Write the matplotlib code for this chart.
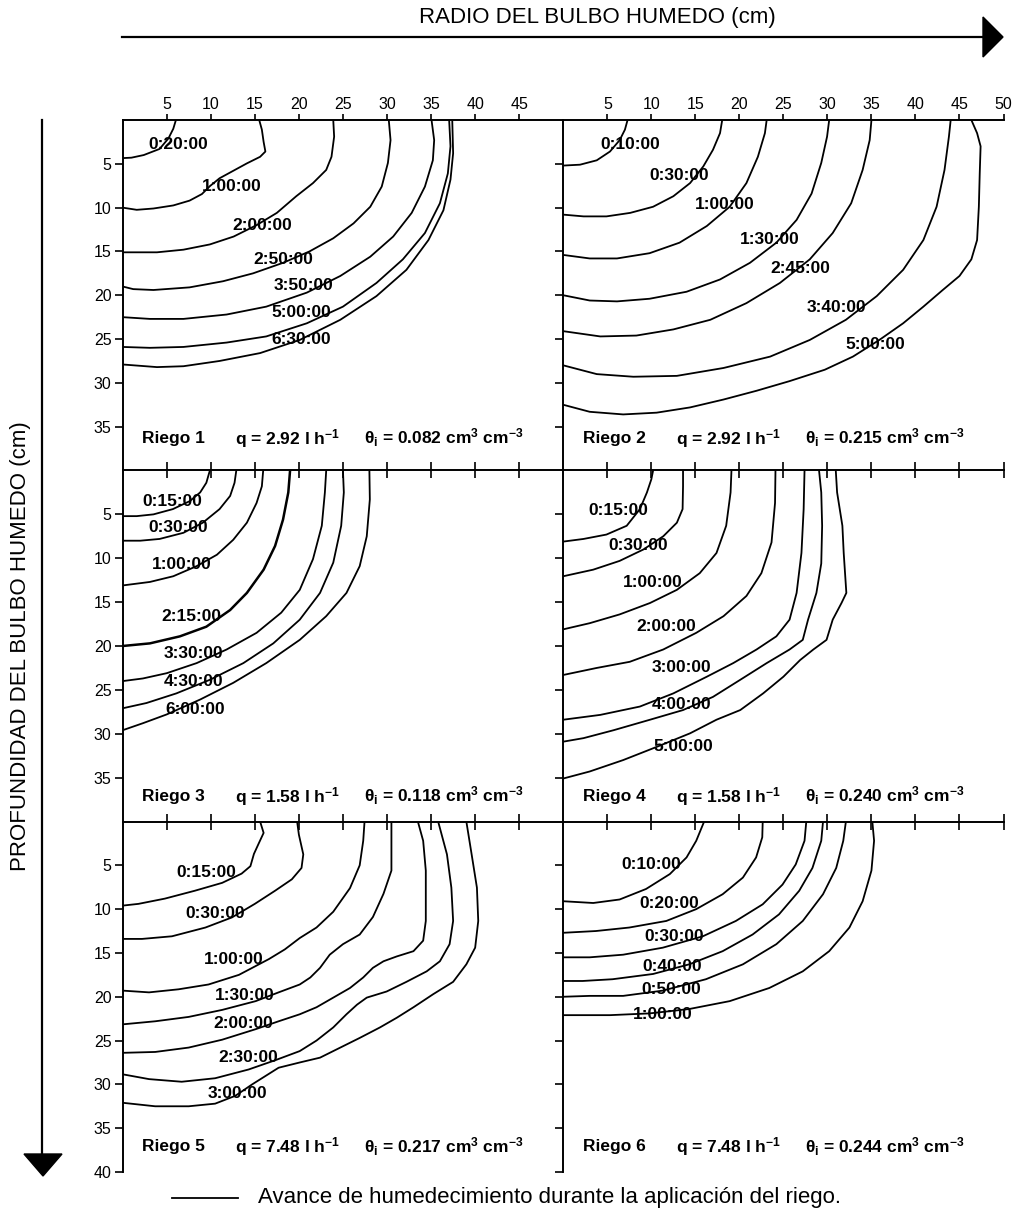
import numpy as np
import matplotlib
matplotlib.use("Agg")
import matplotlib.pyplot as plt
from matplotlib.patches import Polygon

plt.rcParams['font.family'] = ['Liberation Sans', 'DejaVu Sans']
plt.rcParams['mathtext.fontset'] = 'custom'
plt.rcParams['mathtext.rm'] = 'Liberation Sans'
plt.rcParams['mathtext.bf'] = 'Liberation Sans:bold'
plt.rcParams['mathtext.it'] = 'Liberation Sans:italic'

# ---- data: (radius cm, depth cm) along each wetting front ----
riego1_times = ["0:20:00", "1:00:00", "2:00:00", "2:50:00", "3:50:00", "5:00:00", "6:30:00"]
riego1_fronts = [
    [(6.05, 0), (5.75, 1.0), (5.2, 2.1), (4.2, 3.3), (2.4, 4.0), (1.0, 4.3), (0, 4.35)],
    [(15.5, 0), (15.8, 1.1), (16.0, 2.5), (16.2, 3.6), (15.6, 4.2), (14.1, 4.95), (12.55, 5.8),
     (11.0, 6.65), (9.9, 7.55), (9.0, 8.45), (7.6, 9.2), (5.75, 9.75), (3.5, 10.1), (1.6, 10.25), (0, 10.0)],
    [(23.9, 0), (24.0, 1.9), (23.7, 4.2), (23.1, 5.7), (21.6, 7.2), (19.7, 8.7), (17.5, 10.6),
     (15.2, 12.0), (12.6, 13.3), (9.9, 14.2), (6.9, 14.8), (3.9, 15.1), (0, 15.1)],
    [(30.2, 0), (30.4, 2.3), (30.1, 4.9), (29.4, 7.6), (28.1, 9.9), (26.2, 11.8), (23.9, 13.5),
     (21.2, 15.0), (18.2, 16.3), (14.8, 17.5), (11.4, 18.4), (7.6, 19.1), (3.5, 19.4), (1.2, 19.3), (0, 19.0)],
    [(35.05, 0), (35.35, 2.3), (35.2, 4.6), (34.3, 7.6), (32.8, 10.6), (30.7, 13.3), (28.1, 15.6),
     (24.7, 17.8), (20.9, 19.7), (16.3, 21.3), (11.8, 22.2), (6.9, 22.7), (3.1, 22.7), (0, 22.5)],
    [(37.05, 0), (37.2, 3.0), (36.9, 6.1), (36.0, 9.5), (34.3, 12.9), (31.8, 15.9), (28.8, 18.6),
     (25.0, 21.3), (20.9, 23.2), (16.3, 24.7), (11.8, 25.4), (6.9, 25.9), (3.1, 26.0), (0, 25.9)],
    [(37.4, 0), (37.5, 3.8), (37.2, 6.8), (36.4, 10.3), (34.7, 13.7), (32.2, 17.1), (28.8, 20.1),
     (24.7, 22.8), (20.1, 25.1), (15.6, 26.6), (11.0, 27.5), (6.9, 28.1), (3.9, 28.2), (0, 27.9)],
]
riego1_label_xy = [(6.3, 2.85), (12.4, 7.6), (15.8, 12.0), (18.2, 15.9), (20.5, 18.9), (20.3, 22.0), (20.3, 25.1)]

riego2_times = ["0:10:00", "0:30:00", "1:00:00", "1:30:00", "2:45:00", "3:40:00", "5:00:00"]
riego2_fronts = [
    [(7.3, 0), (7.0, 1.1), (6.4, 2.3), (5.3, 3.6), (3.8, 4.6), (1.9, 5.1), (0, 5.2)],
    [(18.05, 0), (17.8, 1.5), (17.0, 3.4), (15.9, 5.3), (14.4, 7.2), (12.5, 8.7), (10.2, 9.9),
     (7.6, 10.6), (4.9, 11.0), (2.3, 11.0), (0, 10.8)],
    [(23.1, 0), (22.9, 1.5), (22.1, 4.2), (20.8, 7.2), (18.9, 9.9), (16.3, 12.1), (13.2, 14.0),
     (9.8, 15.2), (6.1, 15.8), (3.0, 15.8), (0, 15.4)],
    [(30.2, 0), (29.96, 1.9), (29.3, 4.9), (28.2, 8.4), (26.5, 11.4), (24.2, 14.0), (21.2, 16.3),
     (17.8, 18.2), (14.0, 19.6), (9.8, 20.4), (6.1, 20.7), (3.0, 20.6), (0, 20.0)],
    [(35.0, 0), (34.8, 2.3), (34.0, 5.7), (32.7, 9.5), (30.6, 12.9), (28.0, 15.9), (24.6, 18.6),
     (20.8, 20.9), (16.7, 22.8), (12.5, 23.9), (8.3, 24.6), (4.2, 24.7), (0, 24.1)],
    [(44.0, 0), (43.8, 1.9), (43.3, 5.7), (42.4, 9.9), (40.9, 13.7), (38.6, 17.1), (35.6, 20.1),
     (32.1, 22.8), (28.0, 25.1), (23.5, 27.0), (18.2, 28.3), (12.9, 29.2), (7.95, 29.3), (3.8, 29.0), (0, 28.0)],
    [(46.35, 0), (47.0, 1.5), (47.4, 3.0), (47.3, 6.1), (47.2, 9.9), (47.0, 13.7), (46.35, 15.9),
     (45.0, 17.8), (43.1, 19.4), (40.9, 21.3), (38.6, 23.2), (35.9, 25.1), (32.9, 27.0), (29.7, 28.5),
     (25.7, 29.8), (21.95, 30.9), (18.2, 31.9), (14.4, 32.8), (10.6, 33.4), (6.8, 33.6), (3.0, 33.3), (0, 32.5)],
]
riego2_label_xy = [(7.6, 2.85), (13.2, 6.3), (18.35, 9.7), (23.5, 13.6), (26.9, 17.0), (31.0, 21.45), (35.4, 25.6)]

riego3_times = ["0:15:00", "0:30:00", "1:00:00", "2:15:00", "3:30:00", "4:30:00", "6:00:00"]
riego3_fronts = [
    [(9.9, 0), (9.5, 1.4), (8.8, 2.5), (7.6, 3.5), (5.7, 4.4), (3.5, 5.0), (1.6, 5.2), (0, 5.2)],
    [(12.9, 0), (12.7, 1.4), (12.2, 2.9), (11.0, 4.4), (9.1, 5.95), (6.9, 7.1), (4.2, 7.8), (2.0, 8.0), (0, 8.0)],
    [(15.95, 0), (15.8, 1.8), (15.2, 3.7), (14.1, 5.95), (12.55, 7.9), (10.7, 9.6), (8.4, 10.9),
     (5.75, 12.05), (3.1, 12.7), (0, 13.1)],
    [(19.0, 0), (18.8, 2.5), (18.2, 5.6), (17.3, 8.6), (16.0, 11.3), (14.1, 13.95), (12.2, 15.9),
     (9.5, 17.8), (6.5, 18.9), (3.1, 19.7), (0, 20.0)],
    [(23.1, 0), (22.95, 2.5), (22.6, 6.3), (21.6, 10.1), (20.1, 13.6), (18.0, 16.2), (15.2, 18.5),
     (11.8, 20.4), (8.4, 21.95), (5.0, 23.1), (2.3, 23.7), (0, 24.0)],
    [(25.0, 0), (25.1, 2.5), (24.8, 6.3), (23.9, 10.5), (22.4, 13.95), (20.1, 17.0), (17.1, 19.7),
     (13.7, 21.95), (9.9, 23.85), (6.1, 25.4), (2.7, 26.5), (0, 27.1)],
    [(28.0, 0), (28.05, 3.3), (27.7, 7.5), (26.9, 10.9), (25.4, 13.95), (23.1, 16.6), (20.1, 19.3),
     (16.3, 21.95), (12.55, 24.2), (8.8, 26.1), (5.0, 27.8), (2.3, 28.8), (0, 29.6)],
]
riego3_label_xy = [(5.6, 3.5), (6.3, 6.5), (6.7, 10.7), (7.8, 16.6), (8.0, 20.8), (8.0, 24.0), (8.2, 27.2)]

riego4_times = ["0:15:00", "0:30:00", "1:00:00", "2:00:00", "3:00:00", "4:00:00", "5:00:00"]
riego4_fronts = [
    [(10.2, 0), (10.0, 1.0), (9.5, 2.5), (8.7, 4.4), (7.2, 6.3), (4.9, 7.3), (2.3, 7.8), (0, 8.1)],
    [(13.6, 0), (13.6, 1.8), (13.55, 4.4), (12.9, 5.95), (11.35, 7.5), (9.1, 9.0), (6.4, 10.3), (3.4, 11.3), (0, 12.05)],
    [(19.1, 0), (19.0, 2.5), (18.5, 6.3), (17.4, 9.4), (15.5, 11.7), (12.9, 13.6), (9.85, 15.1),
     (6.4, 16.4), (3.0, 17.4), (0, 18.1)],
    [(24.1, 0), (24.05, 3.7), (23.65, 8.2), (22.5, 11.7), (20.8, 14.3), (18.2, 16.6), (15.1, 18.5),
     (11.35, 20.4), (7.55, 21.8), (3.8, 22.5), (0, 23.3)],
    [(27.4, 0), (27.3, 4.4), (27.05, 9.4), (26.5, 13.95), (25.7, 17.0), (24.2, 18.9), (21.95, 20.4),
     (19.3, 21.95), (16.3, 23.5), (12.5, 25.4), (8.7, 26.9), (4.2, 27.85), (0, 28.4)],
    [(29.05, 0), (29.3, 2.5), (29.4, 6.3), (29.3, 10.6), (28.75, 13.95), (27.8, 17.0), (27.2, 19.3),
     (25.7, 20.4), (23.1, 21.95), (20.1, 23.85), (17.0, 25.8), (13.6, 27.3), (9.85, 28.4), (5.7, 29.6),
     (2.3, 30.5), (0, 30.9)],
    [(30.95, 0), (31.1, 2.5), (31.4, 4.4), (31.7, 6.3), (31.85, 9.4), (32.15, 13.95), (31.6, 15.1),
     (30.6, 17.0), (29.9, 19.3), (28.4, 20.4), (26.9, 21.6), (25.0, 23.5), (22.7, 25.4), (20.1, 27.3),
     (17.4, 28.4), (14.4, 29.95), (10.6, 31.5), (6.8, 33.0), (3.0, 34.3), (0, 35.1)],
]
riego4_label_xy = [(6.25, 4.6), (8.5, 8.55), (10.15, 12.8), (11.7, 17.8), (13.4, 22.5), (13.4, 26.7), (13.6, 31.5)]

riego5_times = ["0:15:00", "0:30:00", "1:00:00", "1:30:00", "2:00:00", "2:30:00", "3:00:00"]
riego5_fronts = [
    [(15.6, 0), (16.0, 1.3), (15.4, 2.6), (14.9, 3.7), (14.5, 5.1), (13.5, 5.95), (11.3, 7.0),
     (8.2, 7.9), (4.8, 8.8), (1.8, 9.4), (0, 9.6)],
    [(19.8, 0), (20.0, 1.5), (20.5, 3.75), (20.3, 5.3), (19.2, 6.6), (17.3, 7.9), (15.0, 9.4),
     (12.4, 10.95), (9.4, 12.1), (5.6, 13.1), (2.2, 13.4), (0, 13.4)],
    [(27.45, 0), (27.3, 2.2), (26.9, 5.0), (25.8, 7.6), (23.9, 10.3), (22.0, 12.1), (20.1, 13.3),
     (18.4, 14.6), (16.6, 15.7), (13.2, 17.5), (9.75, 18.6), (6.35, 19.15), (3.0, 19.5), (0, 19.3)],
    [(30.5, 0), (30.5, 3.0), (30.5, 5.6), (29.6, 8.25), (28.4, 10.9), (26.9, 12.9), (25.0, 14.0),
     (23.5, 15.2), (22.4, 16.7), (21.3, 17.8), (20.1, 18.6), (17.7, 19.5), (15.1, 20.5), (11.3, 21.5),
     (7.5, 22.3), (3.7, 22.8), (0, 23.15)],
    [(33.5, 0), (34.1, 2.2), (34.4, 5.6), (34.4, 11.35), (34.1, 13.6), (33.0, 14.8), (31.1, 15.4),
     (29.6, 15.95), (28.4, 16.7), (27.3, 17.8), (25.8, 19.0), (23.9, 20.1), (22.0, 21.2), (20.1, 22.0),
     (17.7, 22.8), (15.1, 23.7), (11.3, 24.9), (7.5, 25.8), (3.7, 26.3), (0, 26.4)],
    [(35.8, 0), (36.8, 3.75), (37.3, 7.55), (37.5, 11.35), (37.1, 14.0), (36.0, 15.95), (34.5, 17.1),
     (32.2, 18.3), (29.96, 19.4), (27.7, 20.1), (26.6, 20.9), (25.4, 22.0), (23.9, 23.5), (22.0, 25.0),
     (20.1, 26.2), (17.3, 27.25), (14.3, 28.3), (10.5, 29.3), (6.7, 29.7), (3.0, 29.4), (0, 28.85)],
    [(39.0, 0), (39.6, 3.75), (40.2, 7.55), (40.35, 11.35), (40.0, 14.4), (39.0, 16.3), (37.5, 18.3),
     (35.25, 19.7), (33.0, 21.2), (31.1, 22.4), (29.2, 23.5), (26.9, 24.7), (24.7, 25.8), (22.4, 26.95),
     (20.1, 27.5), (17.7, 28.1), (16.2, 29.05), (14.7, 30.0), (12.8, 31.3), (10.5, 32.2), (7.5, 32.5),
     (3.7, 32.5), (0, 32.1)],
]
riego5_label_xy = [(9.55, 5.85), (10.5, 10.5), (12.6, 15.7), (13.9, 19.9), (13.7, 23.1), (14.3, 26.95), (13.0, 31.05)]

riego6_times = ["0:10:00", "0:20:00", "0:30:00", "0:40:00", "0:50:00", "1:00:00"]
riego6_fronts = [
    [(16.0, 0), (15.1, 2.2), (14.0, 4.1), (12.1, 6.0), (9.4, 7.7), (6.4, 8.9), (3.4, 9.3), (0, 9.1)],
    [(22.65, 0), (22.6, 1.8), (21.9, 4.1), (20.4, 6.4), (18.1, 8.3), (15.1, 10.0), (11.7, 11.35),
     (7.5, 12.1), (3.7, 12.5), (0, 12.7)],
    [(27.6, 0), (27.4, 2.2), (26.4, 4.9), (24.9, 7.2), (22.65, 9.45), (19.6, 11.35), (15.85, 13.1),
     (11.3, 14.4), (6.8, 15.2), (3.0, 15.5), (0, 15.5)],
    [(29.5, 0), (29.3, 2.2), (28.3, 5.3), (26.8, 7.9), (24.5, 10.6), (21.5, 12.9), (18.1, 14.8),
     (14.3, 16.3), (10.2, 17.4), (5.6, 18.0), (2.2, 18.2), (0, 18.2)],
    [(32.1, 0), (31.8, 2.2), (31.0, 5.3), (29.5, 8.3), (27.2, 11.35), (24.2, 14.0), (20.4, 16.3),
     (16.2, 18.0), (11.3, 19.3), (6.8, 19.9), (3.0, 19.9), (0, 20.0)],
    [(35.1, 0), (35.3, 2.2), (35.0, 5.6), (34.0, 9.1), (32.5, 12.1), (30.2, 14.8), (27.2, 17.1),
     (23.4, 19.0), (18.9, 20.5), (14.3, 21.4), (9.8, 21.9), (5.3, 22.1), (0, 22.1)],
]
riego6_label_xy = [(10.0, 4.9), (12.0, 9.4), (12.55, 13.1), (12.4, 16.5), (12.3, 19.15), (11.3, 22.0)]

riego_names = ["Riego 1", "Riego 2", "Riego 3", "Riego 4", "Riego 5", "Riego 6"]
riego_q = ["2.92", "2.92", "1.58", "1.58", "7.48", "7.48"]
riego_theta = ["0.082", "0.215", "0.118", "0.240", "0.217", "0.244"]

# ---- layout (pixels of the 1018 x 1212 canvas) ----
W, H = 1018, 1212
COLS = [(122.6, 563.3), (563.3, 1003.5)]
ROWS = [(120.0, 470.5), (470.5, 821.5), (821.5, 1172.0)]
INFO_Y = [36.3, 37.1, 37.1]   # depth of the "Riego" caption line per row

fig = plt.figure(figsize=(W / 100, H / 100), dpi=100)

# background overlay for the big arrows and captions
bg = fig.add_axes([0, 0, 1, 1], zorder=0)
bg.set_xlim(0, W)
bg.set_ylim(H, 0)
bg.axis("off")
bg.plot([122, 988], [37, 37], color="black", lw=1.6)
bg.add_patch(Polygon([(983, 17), (1003, 37), (983, 57)], closed=True, color="black"))
bg.plot([42, 42], [120, 1160], color="black", lw=1.6)
bg.add_patch(Polygon([(24, 1154), (62, 1154), (43, 1176)], closed=True, color="black"))
bg.text(597, 18, "RADIO DEL BULBO HUMEDO (cm)", ha="center", va="center", fontsize=16)
bg.text(21, 646, "PROFUNDIDAD DEL BULBO HUMEDO (cm)", ha="center", va="center",
        rotation=90, fontsize=16)
bg.plot([172, 238], [1198, 1198], color="black", lw=1.3)
bg.text(258, 1198, "Avance de humedecimiento durante la aplicación del riego.",
        ha="left", va="center", fontsize=16)

panels = [
    (riego1_fronts, riego1_times, riego1_label_xy),
    (riego2_fronts, riego2_times, riego2_label_xy),
    (riego3_fronts, riego3_times, riego3_label_xy),
    (riego4_fronts, riego4_times, riego4_label_xy),
    (riego5_fronts, riego5_times, riego5_label_xy),
    (riego6_fronts, riego6_times, riego6_label_xy),
]

for i, (fronts, times, label_xy) in enumerate(panels):
    row, col = divmod(i, 2)
    x0, x1 = COLS[col]
    y0, y1 = ROWS[row]
    ax = fig.add_axes([x0 / W, 1 - y1 / H, (x1 - x0) / W, (y1 - y0) / H], zorder=1)
    ax.patch.set_alpha(0)

    for t, pts in zip(times, fronts):
        xy = np.array(pts)
        lw = 1.8 if (i == 2 and t == "2:15:00") else 1.3
        ax.plot(xy[:, 0], xy[:, 1], color="black", lw=lw, solid_joinstyle="round")
    for t, (lx, ly) in zip(times, label_xy):
        ax.text(lx, ly, t, ha="center", va="center", fontsize=12.5, fontweight="bold")

    ty = INFO_Y[row]
    ax.text(2.2, ty, riego_names[i], ha="left", va="center", fontsize=12.5, fontweight="bold")
    ax.text(12.8, ty, "q = " + riego_q[i] + r" l h$^{\mathbf{-1}}$",
            ha="left", va="center", fontsize=12.5, fontweight="bold")
    ax.text(27.4, ty, r"$\mathbf{\theta}_{\mathbf{i}}$ = " + riego_theta[i]
            + r" cm$^{\mathbf{3}}$ cm$^{\mathbf{-3}}$",
            ha="left", va="center", fontsize=12.5, fontweight="bold")

    ax.set_xlim(0, 50)
    ax.set_ylim(40, 0)
    ax.spines["right"].set_visible(False)
    ax.spines["bottom"].set_visible(False)
    for s in ("top", "left"):
        ax.spines[s].set_linewidth(1.4)

    ax.xaxis.tick_top()
    ax.set_xticks(range(5, 46 if col == 0 else 51, 5))
    if row == 0:
        ax.tick_params(axis="x", direction="out", length=4, width=1.2,
                       labeltop=True, labelsize=11.5, pad=2)
    else:
        ax.tick_params(axis="x", direction="inout", length=11, width=1.2, labeltop=False)

    ax.set_yticks(range(5, 41 if row == 2 else 36, 5))
    ax.tick_params(axis="y", direction="out", length=6, width=1.2,
                   labelleft=(col == 0), labelsize=11.5, pad=2)

fig.savefig("out.png", dpi=100)
